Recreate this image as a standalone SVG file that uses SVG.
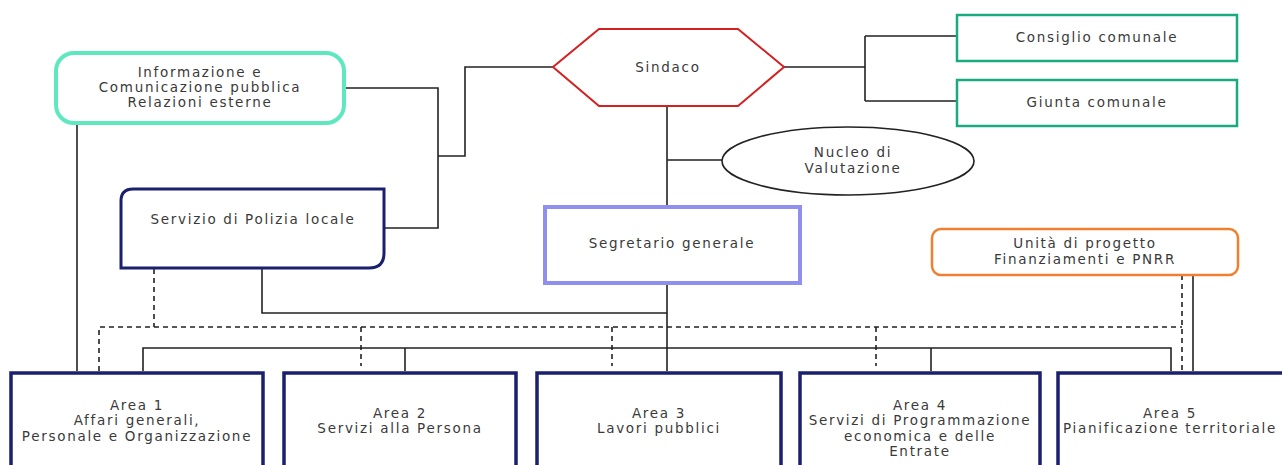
<svg xmlns="http://www.w3.org/2000/svg" width="1282" height="465" viewBox="0 0 1282 465">
<style>
text{font-family:"DejaVu Sans","Liberation Sans",sans-serif;font-size:13.5px;fill:#3a3a3a;text-anchor:middle;dominant-baseline:central;letter-spacing:1.7px}
.ln{fill:none;stroke:#222;stroke-width:1.6}
.ds{fill:none;stroke:#222;stroke-width:1.6;stroke-dasharray:5 4}
.area{fill:#fff;stroke:#1a1f6e;stroke-width:3.5}
</style>
<rect width="1282" height="465" fill="#fff"/>
<g id="connectors">
<path class="ln" d="M344,88 H438 V228 H384 M438,156 H465 V67 H553"/>
<path class="ln" d="M784,67 H865 M865,36 V101 M865,36 H957 M865,101 H957"/>
<path class="ln" d="M667,106 V206 M667,160 H722"/>
<path class="ln" d="M667,283 V371 M262,269 V313 H667"/>
<path class="ln" d="M77,123 V371"/>
<path class="ln" d="M143,371 V348 H1171 V371 M405,348 V371 M931,348 V371"/>
<path class="ds" d="M154,269 V327 M99,371 V327 H1182 M361,327 V366 M612,327 V366 M876,327 V366 M1182,275 V371"/>
<path class="ln" d="M1193,275 V371"/>
</g>
<g id="info">
<rect x="56" y="53" width="288" height="70" rx="18" fill="#fff" stroke="#5fe8c0" stroke-width="4"/>
<text x="200" y="72">Informazione e</text>
<text x="200" y="87">Comunicazione pubblica</text>
<text x="200" y="102">Relazioni esterne</text>
</g>
<g id="polizia">
<path d="M133,189 H384 V253 Q384,268 369,268 H121 V201 Q121,189 133,189 Z" fill="#fff" stroke="#1a1f6e" stroke-width="3"/>
<text x="253" y="219">Servizio di Polizia locale</text>
</g>
<g id="sindaco">
<polygon points="553,67 599,29 738,29 784,67 738,106 599,106" fill="#fff" stroke="#d42020" stroke-width="2"/>
<text x="668" y="67">Sindaco</text>
</g>
<g id="consiglio">
<rect x="957" y="15" width="280" height="46" fill="#fff" stroke="#1aaa80" stroke-width="2.5"/>
<text x="1097" y="37">Consiglio comunale</text>
</g>
<g id="giunta">
<rect x="957" y="80" width="280" height="46" fill="#fff" stroke="#1aaa80" stroke-width="2.5"/>
<text x="1097" y="102">Giunta comunale</text>
</g>
<g id="nucleo">
<ellipse cx="848" cy="161" rx="126" ry="34" fill="#fff" stroke="#222" stroke-width="1.6"/>
<text x="853" y="152">Nucleo di</text>
<text x="853" y="168">Valutazione</text>
</g>
<g id="segretario">
<rect x="545" y="207" width="255" height="76" fill="#fff" stroke="#8f8ff0" stroke-width="4"/>
<text x="672" y="243">Segretario generale</text>
</g>
<g id="pnrr">
<rect x="932" y="229" width="306" height="46" rx="9" fill="#fff" stroke="#f08030" stroke-width="2.5"/>
<text x="1085" y="243">Unità di progetto</text>
<text x="1085" y="259">Finanziamenti e PNRR</text>
</g>
<g id="area1">
<rect class="area" x="11" y="373" width="252" height="100"/>
<text x="137" y="405">Area 1</text>
<text x="137" y="420">Affari generali,</text>
<text x="137" y="436">Personale e Organizzazione</text>
</g>
<g id="area2">
<rect class="area" x="284" y="373" width="232" height="100"/>
<text x="400" y="413">Area 2</text>
<text x="400" y="428">Servizi alla Persona</text>
</g>
<g id="area3">
<rect class="area" x="537" y="373" width="244" height="100"/>
<text x="659" y="413">Area 3</text>
<text x="659" y="428">Lavori pubblici</text>
</g>
<g id="area4">
<rect class="area" x="800" y="373" width="240" height="100"/>
<text x="920" y="405">Area 4</text>
<text x="920" y="420">Servizi di Programmazione</text>
<text x="920" y="436">economica e delle</text>
<text x="920" y="451">Entrate</text>
</g>
<g id="area5">
<rect class="area" x="1058" y="373" width="240" height="100"/>
<text x="1170" y="413">Area 5</text>
<text x="1170" y="428">Pianificazione territoriale</text>
</g>
</svg>
